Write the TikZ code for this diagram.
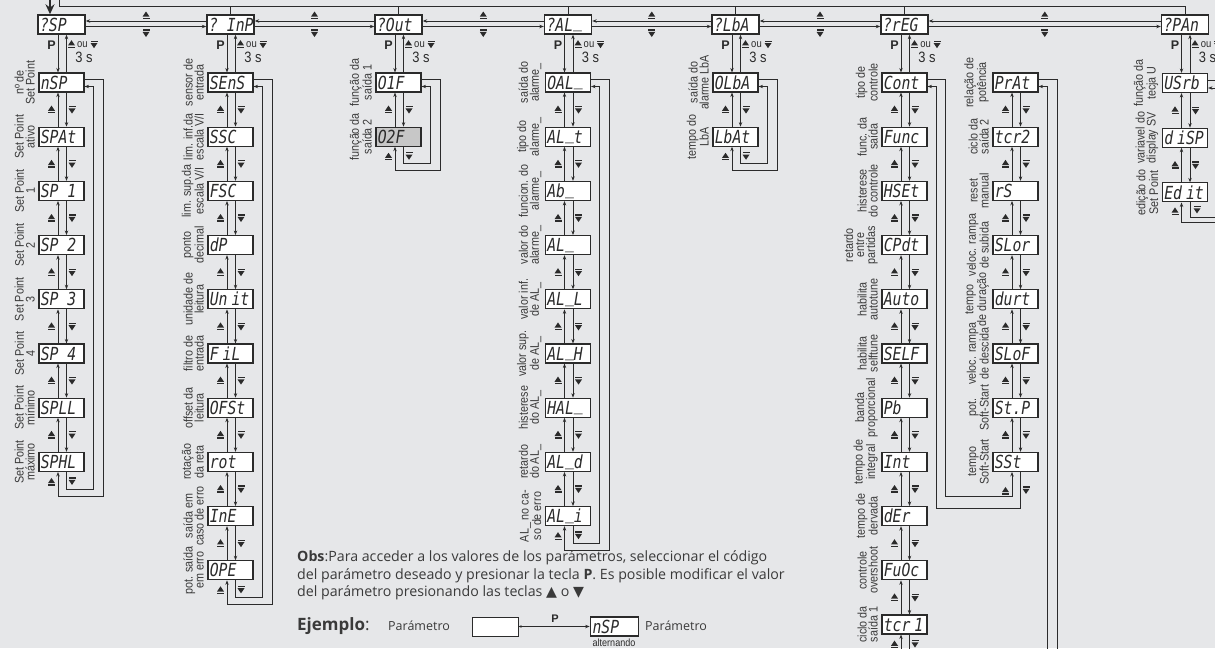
\documentclass[tikz,border=0pt]{standalone}
\usepackage{fontspec}
\usetikzlibrary{arrows.meta,calc}
\setmainfont{Liberation Sans}
\newfontfamily\lblf[FakeStretch=0.86]{Liberation Sans}
\newfontfamily\segf[FakeStretch=0.82]{DejaVu Sans Mono}
\newfontfamily\obsf{Open Sans}
\newfontfamily\djv{DejaVu Sans}
\definecolor{bg}{HTML}{E6E7E9}
\definecolor{ink}{HTML}{2B2B2B}
\definecolor{txt}{HTML}{3A3A3A}
\tikzset{
 pbox/.style={draw=ink,line width=1.1pt,fill=white,minimum width=45pt,minimum height=19pt,inner sep=0pt,text width=41.5pt,align=left,text height=13.2pt,text depth=0pt,font=\segf\itshape\fontsize{18}{18}\selectfont,execute at begin node={\spaceskip=4pt\relax},text=ink},
 hbox/.style={pbox,minimum width=47pt,text width=43pt,line width=1.4pt},
 lab/.style={font=\lblf\fontsize{12.5}{11}\selectfont,rotate=90,anchor=south,align=center,inner sep=0pt,text=txt},
 ln/.style={draw=ink,line width=0.8pt},
 arr/.style={ln,-{Stealth[length=4.5pt,width=3.4pt]}},
 pk/.style={font=\bfseries\fontsize{12.5}{12}\selectfont,text=ink,inner sep=0pt},
 ouf/.style={font=\lblf\fontsize{11}{11}\selectfont,text=ink,inner sep=0pt},
 tsf/.style={font=\lblf\fontsize{15}{15}\selectfont,text=ink,inner sep=0pt},
 obst/.style={font=\obsf\fontsize{14.2}{14}\selectfont,text=txt,inner sep=0pt,anchor=base west},
}
\newcommand\us{\raisebox{3.5pt}{\_}}
\newcommand\upk[1]{\begin{scope}[shift={#1}]\fill[ink] (-3.5,1.2) -- (3.5,1.2) -- (0,-4) -- cycle; \fill[ink] (-3.5,2.4) rectangle (3.5,3.7);\end{scope}}
\newcommand\dnk[1]{\begin{scope}[shift={#1}]\fill[ink] (-3.5,-1.2) -- (3.5,-1.2) -- (0,4) -- cycle; \fill[ink] (-3.5,-2.4) rectangle (3.5,-3.7);\end{scope}}
\newcommand\prm[5]{\node[pbox] (#1) at (#2,#3) {\mbox{#4}}; \node[lab] (#1l) at ([xshift=-3.5pt]#1.west) {#5};}
\newcommand\vl[2]{%
 \draw[arr] ([xshift=-3.5pt]#2.north) -- ([xshift=-3.5pt]#1.south);
 \draw[arr] ([xshift=5pt]#1.south) -- ([xshift=5pt]#2.north);
 \coordinate (mid) at ($(#1.south)!0.5!(#2.north)$);
 \upk{($(mid)+(-10,0)$)}\dnk{($(mid)+(10.5,0)$)}}
\newcommand\hl[2]{%
 \draw[arr] ([xshift=-3.5pt]#1.south) -- ([xshift=-3.5pt]#2.north);
 \draw[arr] ([xshift=5pt]#2.north) -- ([xshift=5pt]#1.south);
 \node[pk] (#1p) at ([xshift=-10pt,yshift=-10pt]#1.south) {P};
 \upk{([xshift=10pt,yshift=-9.5pt]#1.south)}
 \node[ouf] (#1o) at ([xshift=21pt,yshift=-9.5pt]#1.south) {ou};
 \dnk{([xshift=32.5pt,yshift=-9.5pt]#1.south)}
 \node[tsf] (#1t) at ([xshift=22.5pt,yshift=-23pt]#1.south) {3 s};}
\newcommand\hh[2]{%
 \draw[arr] ([yshift=3.5pt]#2.west) -- ([yshift=3.5pt]#1.east);
 \draw[arr] ([yshift=-2pt]#1.east) -- ([yshift=-2pt]#2.west);
 \coordinate (mid) at ($(#1.east)!0.5!(#2.west)$);
 \upk{($(mid)+(0,-9)$)}\dnk{($(mid)+(0,8.5)$)}}
\newcommand\lp[2]{%
 \draw[arr] ([xshift=5pt]#2.south) -- ++(0,17) -| ([xshift=8.5pt,yshift=-4pt]#1.east) -- ([yshift=-4pt]#1.east);
 \draw[arr] ([yshift=3pt]#1.east) -- ++(18.5,0) |- ($(#2.south)+(-3.5,24)$) -- ([xshift=-3.5pt]#2.south);
 \upk{($(#2.south)+(-10,10)$)}\dnk{($(#2.south)+(10.5,9)$)}}
\newcommand\slot{\hspace{4.9pt}}
\begin{document}
\begin{tikzpicture}[x=1pt,y=-1pt]
\fill[bg] (0,0) rectangle (1215,648);
\useasboundingbox (0,0) rectangle (1215,648);
% headers
\node[hbox] (hsp) at (61.5,24.5) {\mbox{?SP}};
\node[hbox] (hinp) at (230.5,24.5) {\mbox{? InP}};
\node[hbox] (hout) at (398.5,24.5) {\mbox{?Out}};
\node[hbox] (hal) at (568,24.5) {\mbox{?AL\us}};
\node[hbox] (hlba) at (735.5,24.5) {\mbox{?LbA}};
\node[hbox] (hreg) at (904.5,24.5) {\mbox{?rEG}};
\node[hbox] (hpan) at (1185,24.5) {\mbox{?PAn}};
\coordinate (tl) at (59,0);
\coordinate (tk) at (59,6);
\draw[ln] (tl) -- (tk) -- (tk -| hpan.north) -- (hpan.north);
\foreach \n in {hinp,hout,hal,hlba,hreg} \draw[ln] (\n.north) -- (\n.north |- tk);
\coordinate (ent) at (50,0);
\draw[ink,line width=1.6pt,-{Stealth[length=10pt,width=9pt]}] (ent) -- (ent |- hsp.north);
\hh{hsp}{hinp}\hh{hinp}{hout}\hh{hout}{hal}\hh{hal}{hlba}\hh{hlba}{hreg}\hh{hreg}{hpan}
% SP column
\prm{sp1}{61.5}{82.5}{nSP}{nº de\\Set Point}
\prm{sp2}{61.5}{82.5+54.2}{SPAt}{Set Point\\ativo}
\prm{sp3}{61.5}{82.5+54.2*2}{SP\slot{} 1}{Set Point\\1}
\prm{sp4}{61.5}{82.5+54.2*3}{SP\slot{} 2}{Set Point\\2}
\prm{sp5}{61.5}{82.5+54.2*4}{SP\slot{} 3}{Set Point\\3}
\prm{sp6}{61.5}{82.5+54.2*5}{SP\slot{} 4}{Set Point\\4}
\prm{sp7}{61.5}{82.5+54.2*6}{SPLL}{Set Point\\mínimo}
\prm{sp8}{61.5}{82.5+54.2*7}{SPHL}{Set Point\\máximo}
% InP column
\prm{inp1}{230.5}{82.5}{SEnS}{sensor de\\entrada}
\prm{inp2}{230.5}{82.5+54.2}{SSC}{lim. inf.da\\escala V/I}
\prm{inp3}{230.5}{82.5+54.2*2}{FSC}{lim. sup.da\\escala V/I}
\prm{inp4}{230.5}{82.5+54.2*3}{dP}{ponto\\decimal}
\prm{inp5}{230.5}{82.5+54.2*4}{Un it}{unidade de\\leitura}
\prm{inp6}{230.5}{82.5+54.2*5}{F iL}{filtro de\\entrada}
\prm{inp7}{230.5}{82.5+54.2*6}{OFSt}{offset da\\leitura}
\prm{inp8}{230.5}{82.5+54.2*7}{rot}{rotação\\da reta}
\prm{inp9}{230.5}{82.5+54.2*8}{InE}{saída em\\caso de erro}
\prm{inp10}{230.5}{82.5+54.2*9}{OPE}{pot. saída\\em erro}
% Out column
\prm{out1}{398.5}{82.5}{O1F}{função da\\saída 1}
\node[pbox,fill=black!22] (out2) at (398.5,82.5+54.2) {\mbox{O2F}};
\node[lab] (out2l) at ([xshift=-3.5pt]out2.west) {função da\\saída 2};
% AL column
\prm{al1}{568}{82.5}{OAL\us}{saída do\\alarme\_}
\prm{al2}{568}{82.5+54.2}{AL\us t}{tipo do\\alarme\_}
\prm{al3}{568}{82.5+54.2*2}{Ab\us}{funcion. do\\alarme\_}
\prm{al4}{568}{82.5+54.2*3}{AL\us}{valor do\\alarme\_}
\prm{al5}{568}{82.5+54.2*4}{AL\us L}{valor inf.\\de AL\_}
\prm{al6}{568}{82.5+54.2*5}{AL\us H}{valor sup.\\de AL\_}
\prm{al7}{568}{82.5+54.2*6}{HAL\us}{histerese\\do AL\_}
\prm{al8}{568}{82.5+54.2*7}{AL\us d}{retardo\\do AL\_}
\prm{al9}{568}{82.5+54.2*8}{AL\us i}{AL\_ no ca-\\so de erro}
% LbA column
\prm{lba1}{735.5}{82.5}{OLbA}{saída do\\alarme LbA}
\prm{lba2}{735.5}{82.5+54.2}{LbAt}{tempo do\\LbA}
% rEG column
\prm{reg1}{904.5}{82.5}{Cont}{tipo de\\controle}
\prm{reg2}{904.5}{82.5+54.2}{Func}{func. da\\saída}
\prm{reg3}{904.5}{82.5+54.2*2}{HSEt}{histerese\\do controle}
\prm{reg4}{904.5}{82.5+54.2*3}{CPdt}{retardo\\entre\\partidas}
\prm{reg5}{904.5}{82.5+54.2*4}{Auto}{habilita\\autotune}
\prm{reg6}{904.5}{82.5+54.2*5}{SELF}{habilita\\selftune}
\prm{reg7}{904.5}{82.5+54.2*6}{Pb}{banda\\proporcional}
\prm{reg8}{904.5}{82.5+54.2*7}{Int}{tempo de\\integral}
\prm{reg9}{904.5}{82.5+54.2*8}{dEr}{tempo de\\dervada}
\prm{reg10}{904.5}{82.5+54.2*9}{FuOc}{controle\\overshoot}
\prm{reg11}{904.5}{82.5+54.2*10}{tcr 1}{ciclo da\\saída 1}
% PrAt column
\prm{pr1}{1015.5}{82.5}{PrAt}{relação de\\potência}
\prm{pr2}{1015.5}{82.5+54.2}{tcr2}{ciclo da\\saída 2}
\prm{pr3}{1015.5}{82.5+54.2*2}{rS}{reset\\manual}
\prm{pr4}{1015.5}{82.5+54.2*3}{SLor}{veloc. rampa\\de subida}
\prm{pr5}{1015.5}{82.5+54.2*4}{durt}{tempo\\de duração}
\prm{pr6}{1015.5}{82.5+54.2*5}{SLoF}{veloc. rampa\\de descida}
\prm{pr7}{1015.5}{82.5+54.2*6}{St.P}{pot.\\Soft-Start}
\prm{pr8}{1015.5}{82.5+54.2*7}{SSt}{tempo\\Soft-Start}
% PAn column
\prm{pan1}{1185}{83}{USrb}{função da\\tecja U}
\prm{pan2}{1185}{83+54.7}{d iSP}{variavel do\\display SV}
\prm{pan3}{1185}{83+54.7*2}{Ed it}{edição do\\Set Point}
% header to first
\hl{hsp}{sp1}\hl{hinp}{inp1}\hl{hout}{out1}\hl{hal}{al1}\hl{hlba}{lba1}\hl{hreg}{reg1}\hl{hpan}{pan1}
% vertical links
\foreach \i [evaluate=\i as \j using int(\i+1)] in {1,...,7} {\vl{sp\i}{sp\j}}
\foreach \i [evaluate=\i as \j using int(\i+1)] in {1,...,9} {\vl{inp\i}{inp\j}}
\vl{out1}{out2}
\foreach \i [evaluate=\i as \j using int(\i+1)] in {1,...,8} {\vl{al\i}{al\j}}
\vl{lba1}{lba2}
\foreach \i [evaluate=\i as \j using int(\i+1)] in {1,...,10} {\vl{reg\i}{reg\j}}
\foreach \i [evaluate=\i as \j using int(\i+1)] in {1,...,7} {\vl{pr\i}{pr\j}}
\vl{pan1}{pan2}\vl{pan2}{pan3}
% loops
\lp{sp1}{sp8}\lp{inp1}{inp10}\lp{out1}{out2}\lp{al1}{al9}\lp{lba1}{lba2}
% rEG loops
\draw[arr] ([xshift=5pt]reg11.south) -- ++(0,14.5) -| ([xshift=9pt,yshift=-4pt]pr1.east) -- ([yshift=-4pt]pr1.east);
\draw[arr] ([yshift=3pt]pr1.east) -- ++(19,0) |- ($(reg11.south)+(-3.5,30)$) -- ([xshift=-3.5pt]reg11.south);
\upk{($(reg11.south)+(-10,10)$)}\dnk{($(reg11.south)+(10.5,9)$)}
\draw[arr] ([xshift=5pt]pr8.south) -- ++(0,36.5) -| ([xshift=9pt,yshift=-4pt]reg1.east) -- ([yshift=-4pt]reg1.east);
\draw[arr] ([yshift=3pt]reg1.east) -- ++(18,0) |- ($(pr8.south)+(-3.5,24)$) -- ([xshift=-3.5pt]pr8.south);
\upk{($(pr8.south)+(-10,19)$)}\dnk{($(pr8.south)+(10.5,18)$)}
% PAn loops (run off the right edge)
\draw[arr] ([xshift=5pt]pan3.south) -- ++(0,14.5) -| ([xshift=14pt,yshift=-5pt]pan1.east) -- ([yshift=-5pt]pan1.east);
\draw[arr] ([yshift=2.5pt]pan1.east) -- ++(30,0) |- ($(pan3.south)+(-3.5,19.5)$) -- ([xshift=-3.5pt]pan3.south);
\upk{($(pan3.south)+(-10,9)$)}\dnk{($(pan3.south)+(12,7)$)}
% Obs text
\node[obst] (obs1) at (297,561.5) {\textbf{Obs}:Para acceder a los valores de los parámetros, seleccionar el código};
\node[obst] (obs2) at (297,579) {del parámetro deseado y presionar la tecla \textbf{P}. Es posible modificar el valor};
\node[obst] (obs3) at (297,596.5) {del parámetro presionando las teclas {\djv ▲} o {\djv ▼}};
\node[obst,font=\obsf\fontsize{17}{17}\selectfont] (ej) at (297,630) {\textbf{Ejemplo}:};
\node[obst,font=\obsf\fontsize{12.5}{12}\selectfont] (ejp1) at (388,630) {Parámetro};
\node[draw=ink,line width=1pt,fill=white,minimum width=46pt,minimum height=19pt,inner sep=0pt] (ex1) at (495,626.5) {};
\node[pbox,line width=1.7pt,minimum width=48pt,text width=44pt] (ex2) at (614.5,626.5) {\mbox{nSP}};
\draw[ln,{Stealth[length=3pt,width=2.5pt]}-{Stealth[length=4.5pt,width=3.4pt]}] (ex1) -- (ex2);
\node[pk,font=\bfseries\fontsize{11}{11}\selectfont] (exp) at (555,618.5) {P};
\node[ouf,font=\lblf\fontsize{10.5}{10}\selectfont] (alt) at (614,643) {alternando};
\node[obst,font=\obsf\fontsize{12.5}{12}\selectfont] (ejp2) at (645,630) {Parámetro};
\end{tikzpicture}
\end{document}
